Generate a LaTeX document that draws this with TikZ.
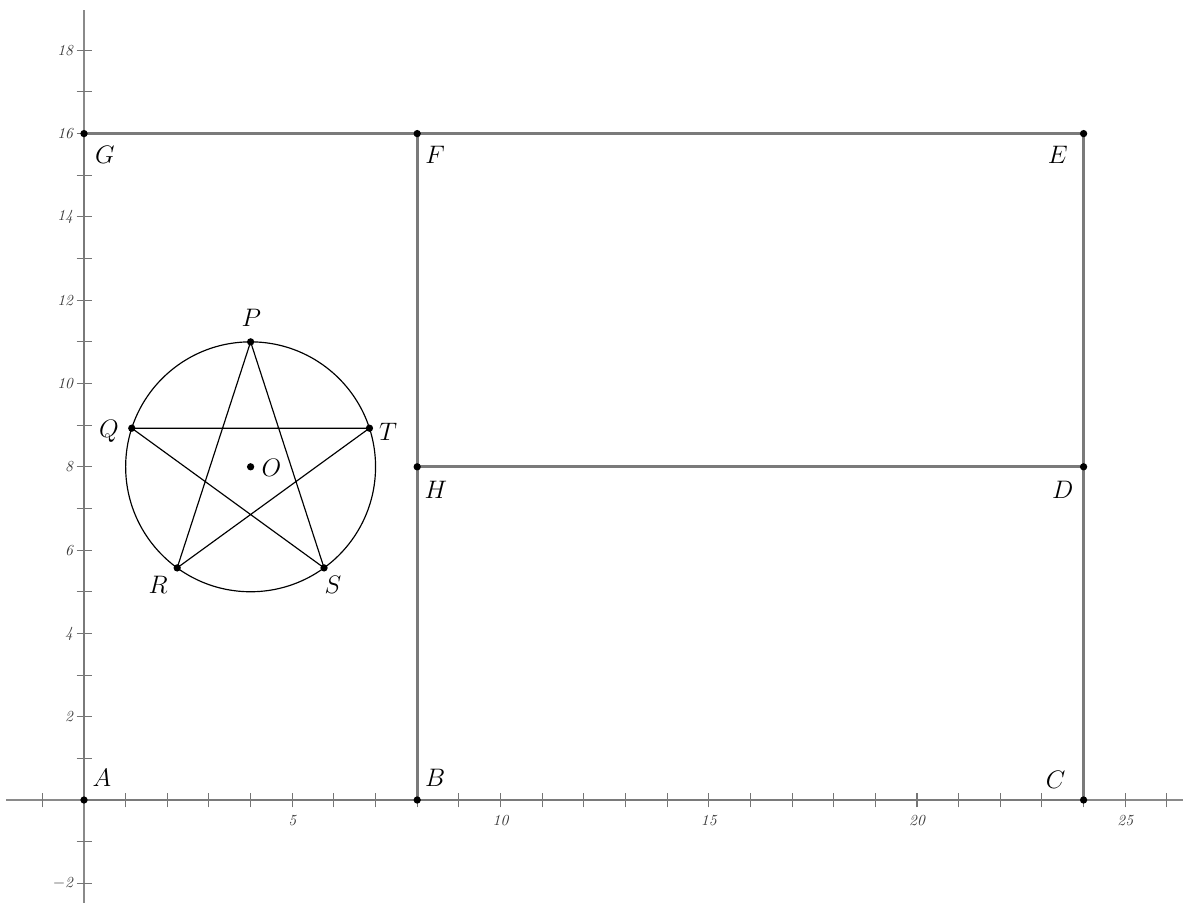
\documentclass[tikz,border=0pt]{standalone}
\usepackage{xcolor}
\usepackage{tikz}
\usetikzlibrary{positioning, calc}
\definecolor{gsAxis}{HTML}{8A8A8A}
\definecolor{gsSeg}{HTML}{7A7A7A}
\definecolor{gsTick}{HTML}{3A3A3A}
\tikzset{
  axisline/.style={line width=0.9pt, gsAxis},
  tickmark/.style={line width=0.7pt, gsTick!70},
  ticklabel/.style={font=\fontsize{10.5}{12}\selectfont\itshape, text=gsTick, inner sep=1pt},
  segline/.style={line width=1.9pt, gsSeg},
  starline/.style={line width=0.8pt, black},
  dot/.style={circle, fill=black, inner sep=0pt, minimum size=5pt},
  ptlabel/.style={font=\fontsize{16}{18}\selectfont, inner sep=0pt}
}
\begin{document}
\begin{tikzpicture}
  \useasboundingbox (-2.017,-2.473) rectangle (26.387,19.208);
  % axes
  \coordinate (xmin) at (-1.87,0);
  \coordinate (xmax) at (26.39,0);
  \coordinate (ymin) at (0,-2.48);
  \coordinate (ymax) at (0,18.97);
  \draw[axisline] (xmin) -- (xmax);
  \draw[axisline] (ymin) -- (ymax);
  \foreach \x in {-1,1,2,...,26}
    \draw[tickmark] (\x,-0.18) -- (\x,0.18);
  \foreach \y in {-2,-1,1,2,...,18}
    \draw[tickmark] (-0.18,\y) -- (0.18,\y);
  \foreach \x in {5,10,...,25}
    \node[ticklabel] (xl\x) at (\x,-0.5) {\x};
  \foreach \y in {2,4,...,18}
    \node[ticklabel, anchor=east] (yl\y) at (-0.22,\y) {\y};
  \node[ticklabel, anchor=east] (ylm2) at (-0.22,-2) {$-$2};

  % rectangle points
  \coordinate (A) at (0,0);
  \coordinate (B) at (8,0);
  \coordinate (C) at (24,0);
  \coordinate (D) at (24,8);
  \coordinate (E) at (24,16);
  \coordinate (F) at (8,16);
  \coordinate (G) at (0,16);
  \coordinate (H) at (8,8);

  \draw[segline] (A) -- (B) -- (C) -- (D) -- (E) -- (F) -- (G) -- cycle;
  \draw[segline] (F) -- (H) -- (B);
  \draw[segline] (H) -- (D);

  % circle and pentagram
  \coordinate (O) at (4,8);
  \coordinate (P) at ($(O)+(90:3)$);
  \coordinate (Q) at ($(O)+(162:3)$);
  \coordinate (R) at ($(O)+(234:3)$);
  \coordinate (S) at ($(O)+(306:3)$);
  \coordinate (T) at ($(O)+(18:3)$);
  \draw[starline] (O) circle (3);
  \draw[starline] (P) -- (R) -- (T) -- (Q) -- (S) -- cycle;

  % points
  \foreach \p in {A,B,C,D,E,F,G,H,O,P,Q,R,S,T}
    \node[dot] (d\p) at (\p) {};

  % labels
  \node[ptlabel] (lA) at (0.43,0.53) {$A$};
  \node[ptlabel] (lB) at (8.43,0.53) {$B$};
  \node[ptlabel] (lC) at (23.33,0.48) {$C$};
  \node[ptlabel] (lD) at (23.5,7.44) {$D$};
  \node[ptlabel] (lE) at (23.38,15.49) {$E$};
  \node[ptlabel] (lF) at (8.43,15.49) {$F$};
  \node[ptlabel] (lG) at (0.5,15.49) {$G$};
  \node[ptlabel] (lH) at (8.45,7.44) {$H$};
  \node[ptlabel] (lP) at (4.02,11.57) {$P$};
  \node[ptlabel] (lQ) at (0.6,8.84) {$Q$};
  \node[ptlabel] (lT) at (7.3,8.84) {$T$};
  \node[ptlabel] (lR) at (1.78,5.16) {$R$};
  \node[ptlabel] (lS) at (5.98,5.16) {$S$};
  \node[ptlabel] (lO) at (4.5,7.97) {$O$};
\end{tikzpicture}
\end{document}
